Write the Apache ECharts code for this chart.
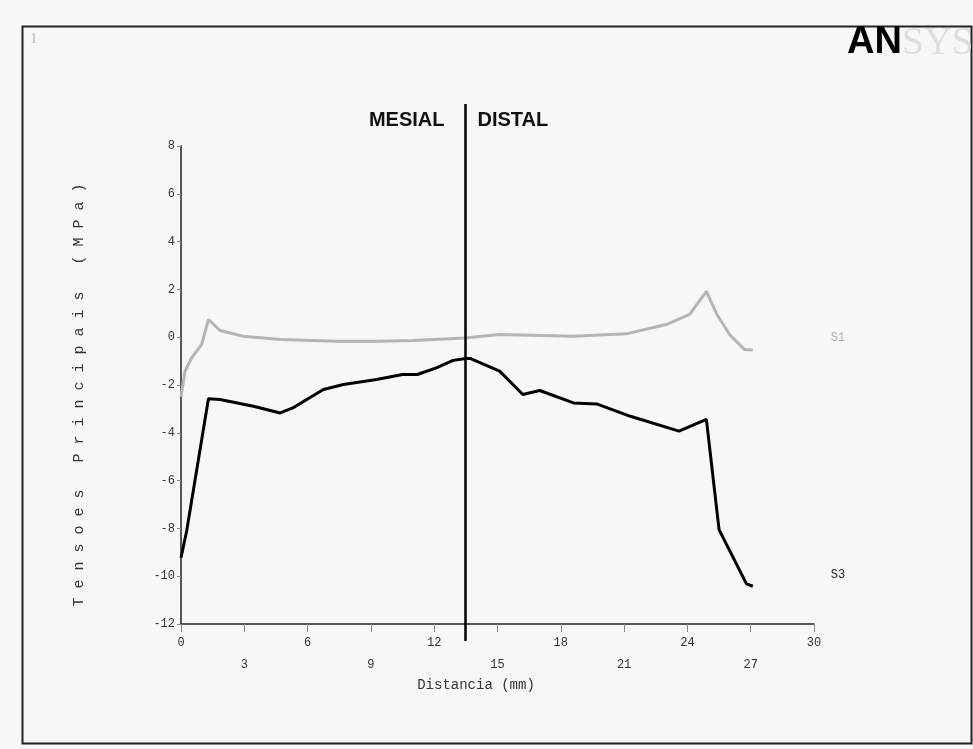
<!DOCTYPE html>
<html>
<head>
<meta charset="utf-8">
<title>Tensoes Principais</title>
<script src="https://cdn.jsdelivr.net/npm/echarts@6/dist/echarts.min.js"></script>
<style>
    html, body { margin: 0; padding: 0; background: #fbfbfb; }
    #main { width: 973px; height: 749px; }
</style>
</head>
<body>
<div id="main"></div>
<script>
// S1 - tensao principal maxima (cinza)
var s1Dist   = [0, 0.19, 0.5, 0.98, 1.3, 1.85, 2.95, 4.7, 7.4, 9.3, 11.0, 13.45, 15.1, 18.6, 21.1, 23.0, 24.1, 24.9, 25.4, 26.0, 26.7, 27.1];
var s1Stress = [-2.5, -1.42, -0.87, -0.3, 0.74, 0.28, 0.04, -0.1, -0.17, -0.17, -0.14, -0.03, 0.11, 0.04, 0.14, 0.53, 0.95, 1.92, 0.95, 0.11, -0.51, -0.54];

// S3 - tensao principal minima (preto)
var s3Dist   = [0, 0.27, 1.3, 1.85, 3.43, 4.7, 5.3, 5.96, 6.75, 7.7, 9.27, 10.5, 11.2, 12.1, 12.9, 13.5, 13.7, 15.1, 16.2, 17.0, 18.6, 19.7, 21.3, 23.6, 24.9, 25.5, 26.8, 27.1];
var s3Stress = [-9.23, -8.1, -2.58, -2.61, -2.89, -3.17, -2.96, -2.61, -2.19, -1.98, -1.77, -1.56, -1.56, -1.28, -0.97, -0.89, -0.89, -1.42, -2.4, -2.23, -2.75, -2.79, -3.31, -3.93, -3.44, -8.05, -10.32, -10.42];

// divisao mesial / distal (mm)
var dividerDist = 13.45;

var mono = '"Liberation Mono", "DejaVu Sans Mono", monospace';

function pairs(xs, ys) {
    var out = [];
    for (var i = 0; i < xs.length; i++) {
        out.push([xs[i], ys[i]]);
    }
    return out;
}

var option = {
    backgroundColor: '#f7f7f7',
    animation: false,
    grid: {
        left: 181,
        right: 159,
        top: 146,
        bottom: 125
    },
    xAxis: {
        type: 'value',
        min: 0,
        max: 30,
        interval: 3,
        splitLine: { show: false },
        axisLine: { onZero: false, lineStyle: { color: '#222', width: 1.5 } },
        axisTick: { length: 8, lineStyle: { color: '#888' } },
        axisLabel: {
            margin: 8,
            lineHeight: 22,
            color: '#333',
            fontFamily: mono,
            fontSize: 12,
            formatter: function (v) {
                // rotulos alternados em duas linhas
                return (v % 6 === 0) ? String(v) : '\n' + v;
            }
        }
    },
    yAxis: {
        type: 'value',
        min: -12,
        max: 8,
        interval: 2,
        splitLine: { show: false },
        axisLine: { show: true, onZero: false, lineStyle: { color: '#222', width: 1.5 } },
        axisTick: { show: true, length: 4, lineStyle: { color: '#888' } },
        axisLabel: {
            margin: 6,
            color: '#333',
            fontFamily: mono,
            fontSize: 12
        }
    },
    series: [{
        name: 'S1',
        type: 'line',
        symbol: 'none',
        data: pairs(s1Dist, s1Stress),
        lineStyle: { color: '#b5b5b5', width: 3 }
    }, {
        name: 'S3',
        type: 'line',
        symbol: 'none',
        data: pairs(s3Dist, s3Stress),
        lineStyle: { color: '#000', width: 3 }
    }]
};

var myChart = echarts.init(document.getElementById('main'));
myChart.setOption(option);

// linha vertical e rotulos posicionados pela escala do eixo x
var lineX = Math.round(myChart.convertToPixel({ xAxisIndex: 0 }, dividerDist)) + 0.5;

myChart.setOption({
    graphic: [{
        type: 'rect',
        shape: { x: 22.5, y: 26.5, width: 949, height: 717 },
        style: { fill: 'none', stroke: '#222', lineWidth: 2 },
        silent: true
    }, {
        type: 'text',
        left: 30, top: 32,
        style: { text: '1', fill: '#bbb', font: '15px "Liberation Serif", serif' }
    }, {
        type: 'text',
        x: 902, y: 43,
        style: { text: 'AN', fill: '#000', align: 'right', verticalAlign: 'middle', font: 'bold 38px "Liberation Sans", Arial, sans-serif' }
    }, {
        type: 'text',
        x: 902, y: 44,
        style: { text: 'SYS', fill: '#dedede', align: 'left', verticalAlign: 'middle', font: '39px "Liberation Serif", serif' }
    }, {
        type: 'line',
        shape: { x1: lineX, y1: 104, x2: lineX, y2: 641 },
        style: { stroke: '#000', lineWidth: 2.5 },
        z: 10
    }, {
        type: 'text',
        x: lineX - 21, y: 120,
        style: { text: 'MESIAL', fill: '#111', align: 'right', verticalAlign: 'middle', font: 'bold 20px "Liberation Sans", Arial, sans-serif' }
    }, {
        type: 'text',
        x: lineX + 12, y: 120,
        style: { text: 'DISTAL', fill: '#111', align: 'left', verticalAlign: 'middle', font: 'bold 20px "Liberation Sans", Arial, sans-serif' }
    }, {
        type: 'text',
        x: 838, y: 338,
        style: { text: 'S1', fill: '#b0b0b0', align: 'center', verticalAlign: 'middle', font: '12px ' + mono }
    }, {
        type: 'text',
        x: 838, y: 575,
        style: { text: 'S3', fill: '#222', align: 'center', verticalAlign: 'middle', font: '12px ' + mono }
    }, {
        type: 'text',
        x: 476, y: 685,
        style: { text: 'Distancia (mm)', fill: '#333', align: 'center', verticalAlign: 'middle', font: '14px ' + mono }
    }, {
        type: 'text',
        x: 79, y: 395,
        rotation: Math.PI / 2,
        style: { text: 'T e n s o e s   P r i n c i p a i s   ( M P a )', fill: '#333', align: 'center', verticalAlign: 'middle', font: '15px ' + mono }
    }]
});
</script>
</body>
</html>
